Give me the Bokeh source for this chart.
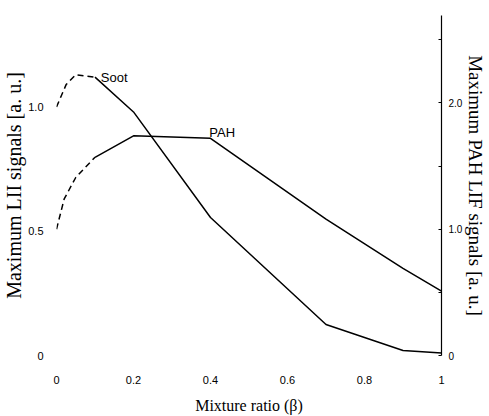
from bokeh.plotting import figure
from bokeh.models import Range1d, LinearAxis, FixedTicker, Label
from bokeh.embed import file_html
from bokeh.resources import INLINE

# Data
soot_dash_x = [0.0, 0.025, 0.05, 0.1]
soot_dash_y = [1.0, 1.09, 1.13, 1.12]
soot_x = [0.1, 0.2, 0.4, 0.7, 0.9, 1.0]
soot_y = [1.12, 0.98, 0.555, 0.125, 0.02, 0.01]

pah_dash_x = [0.0, 0.02, 0.05, 0.1]
pah_dash_y = [1.0, 1.24, 1.41, 1.57]
pah_x = [0.1, 0.2, 0.4, 0.7, 0.9, 1.0]
pah_y = [1.57, 1.74, 1.72, 1.08, 0.69, 0.51]

x_ticks = [0, 0.2, 0.4, 0.6, 0.8, 1.0]
x_tick_labels = ["0", "0.2", "0.4", "0.6", "0.8", "1"]
left_ticks = [0, 0.5, 1.0]
left_tick_labels = ["0", "0.5", "1.0"]
right_ticks = [0, 1.0, 2.0]
right_minor = [0.5, 1.5, 2.5]
right_tick_labels = ["0", "1.0", "2.0"]

SERIF = "Liberation Serif"
SANS = "Liberation Sans"

p = figure(width=489, height=416, output_backend="svg", toolbar_location=None,
           x_range=Range1d(0, 1), y_range=Range1d(0, 1.368),
           min_border_left=55, min_border_right=45, min_border_top=15,
           min_border_bottom=59, outline_line_color=None)
p.grid.visible = False
p.background_fill_color = "white"
p.border_fill_color = "white"

p.extra_y_ranges = {"right": Range1d(0, 2.693)}

# x axis
xa = p.xaxis[0]
xa.ticker = FixedTicker(ticks=x_ticks)
xa.major_label_overrides = {t: l for t, l in zip(x_ticks, x_tick_labels)}
xa.axis_line_color = None
xa.major_tick_line_color = None
xa.minor_tick_line_color = None
xa.major_label_standoff = 14
xa.major_label_text_font = SANS
xa.major_label_text_font_size = "11px"
xa.major_label_text_color = "black"
xa.axis_label = "Mixture ratio (β)"
xa.axis_label_text_font = SERIF
xa.axis_label_text_font_style = "normal"
xa.axis_label_text_font_size = "16px"
xa.axis_label_text_color = "black"
xa.axis_label_standoff = 10

# left axis
ya = p.yaxis[0]
ya.ticker = FixedTicker(ticks=left_ticks)
ya.major_label_overrides = {t: l for t, l in zip(left_ticks, left_tick_labels)}
ya.axis_line_color = None
ya.major_tick_line_color = None
ya.minor_tick_line_color = None
ya.major_label_standoff = 7
ya.major_label_orientation = "horizontal"
ya.major_label_text_font = SANS
ya.major_label_text_font_size = "11px"
ya.major_label_text_color = "black"
ya.axis_label = "Maximum LII signals [a. u.]"
ya.axis_label_text_font = SERIF
ya.axis_label_text_font_style = "normal"
ya.axis_label_text_font_size = "20px"
ya.axis_label_text_color = "black"
ya.axis_label_standoff = 0

# right axis
ra = LinearAxis(y_range_name="right",
                ticker=FixedTicker(ticks=right_ticks, minor_ticks=right_minor))
ra.major_label_overrides = {t: l for t, l in zip(right_ticks, right_tick_labels)}
ra.axis_line_color = "black"
ra.axis_line_width = 1.2
ra.major_tick_in = 3
ra.major_tick_out = 0
ra.minor_tick_in = 3
ra.minor_tick_out = 0
ra.major_tick_line_color = "black"
ra.minor_tick_line_color = "black"
ra.major_label_standoff = 7
ra.major_label_orientation = "horizontal"
ra.major_label_text_font = SANS
ra.major_label_text_font_size = "10px"
ra.major_label_text_color = "black"
ra.axis_label = "Maximum PAH LIF signals [a. u.]"
ra.axis_label_text_font = SERIF
ra.axis_label_text_font_style = "normal"
ra.axis_label_text_font_size = "19px"
ra.axis_label_text_line_height = 1.0
ra.axis_label_text_color = "black"
ra.axis_label_standoff = 0
p.add_layout(ra, "right")

# lines
p.line(soot_dash_x, soot_dash_y, line_color="black", line_width=1.5, line_dash="6 4")
p.line(soot_x, soot_y, line_color="black", line_width=1.5)
p.line(pah_dash_x, pah_dash_y, line_color="black", line_width=1.5, line_dash="6 4",
       y_range_name="right")
p.line(pah_x, pah_y, line_color="black", line_width=1.5, y_range_name="right")

p.add_layout(Label(x=0.115, y=1.12, text="Soot", text_font=SANS,
                   text_font_size="13px", text_color="black",
                   text_baseline="alphabetic"))
p.add_layout(Label(x=0.397, y=1.764, y_range_name="right", text="PAH",
                   text_font=SANS, text_font_size="13px", text_color="black",
                   text_baseline="alphabetic"))

open("out.html", "w").write(file_html(p, INLINE))
